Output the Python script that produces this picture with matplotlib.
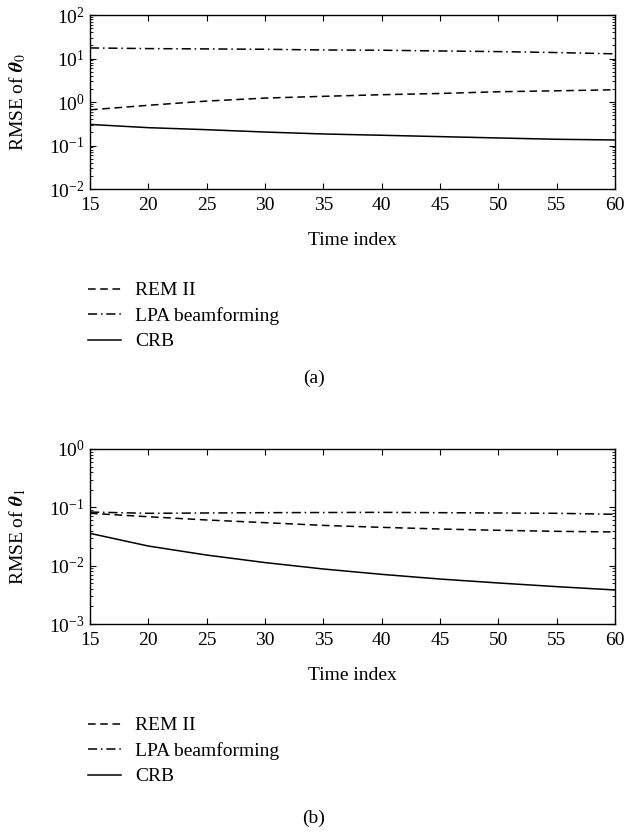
import numpy as np
import matplotlib.pyplot as plt
from matplotlib.ticker import LogLocator, NullLocator, NullFormatter

plt.rcParams['font.family'] = ['Liberation Serif', 'DejaVu Serif']
plt.rcParams['mathtext.fontset'] = 'stix'
FS = 14

# --- RMSE vs time index
time_idx = [15, 20, 25, 30, 35, 40, 45, 50, 55, 60]

# theta_0
rem_0 = [0.66, 0.84, 1.05, 1.23, 1.35, 1.47, 1.57, 1.72, 1.81, 1.91]
lpa_0 = [17.5, 16.9, 16.6, 16.3, 15.7, 15.5, 14.9, 14.4, 13.7, 12.8]
crb_0 = [0.305, 0.257, 0.231, 0.204, 0.184, 0.172, 0.160, 0.149, 0.139, 0.134]

# theta_1
rem_1 = [0.079, 0.069, 0.0607, 0.0546, 0.049, 0.0454, 0.0425, 0.0404, 0.0388, 0.0378]
lpa_1 = [0.083, 0.079, 0.080, 0.081, 0.0815, 0.082, 0.081, 0.080, 0.079, 0.076]
crb_1 = [0.0358, 0.0217, 0.0152, 0.0113, 0.00877, 0.0071, 0.0059, 0.00505, 0.00437, 0.00383]

labels = ["REM II", "LPA beamforming", "CRB"]


def draw_panel(fig, rect, rem, lpa, crb, ylim, ylabel, legend_y, tag, tag_y):
    ax = fig.add_axes(rect)
    ax.plot(time_idx, rem, color="black", lw=1.1, ls=(0, (5, 3)), label=labels[0])
    ax.plot(time_idx, lpa, color="black", lw=1.1, ls=(0, (6, 2.5, 1, 2.5)), label=labels[1])
    ax.plot(time_idx, crb, color="black", lw=1.1, ls="-", label=labels[2])

    ax.set_yscale("log")
    ax.set_xlim(15, 60)
    ax.set_ylim(*ylim)
    ax.set_xticks(np.arange(15, 61, 5))
    ax.yaxis.set_major_locator(LogLocator(base=10, numticks=10))
    ax.yaxis.set_minor_locator(LogLocator(base=10, subs=np.arange(2, 10), numticks=10))
    ax.yaxis.set_minor_formatter(NullFormatter())
    ax.xaxis.set_minor_locator(NullLocator())
    ax.tick_params(which="both", direction="in", top=True, right=True, labelsize=FS)
    ax.tick_params(which="major", length=4.5, width=0.8)
    ax.tick_params(axis="x", pad=6)
    ax.tick_params(axis="y", pad=4)
    ax.tick_params(which="minor", length=2.5, width=0.6)
    for s in ax.spines.values():
        s.set_linewidth(1.0)

    ax.set_xlabel("Time index", fontsize=FS)
    ax.xaxis.set_label_coords(0.5, -0.245)
    ax.set_ylabel(ylabel, fontsize=FS)
    ax.yaxis.set_label_coords(-0.118, 0.5)

    fig.legend(*ax.get_legend_handles_labels(), loc="upper left",
               bbox_to_anchor=(0.128, legend_y), frameon=False,
               handlelength=1.7, handletextpad=0.72, labelspacing=0.4,
               fontsize=FS, borderaxespad=0)
    fig.text(0.5, tag_y, tag, ha="center", va="center", fontsize=FS)
    return ax


fig = plt.figure(figsize=(6.27, 8.32), dpi=100)

H = 832.0
W = 627.0
left = 90 / W
width = (615 - 90) / W

draw_panel(fig, [left, 1 - 189 / H, width, (189 - 15) / H],
           rem_0, lpa_0, crb_0, (1e-2, 1e2), r"RMSE of $\mathbfit{\theta}_0$",
           1 - 274 / H, "(a)", 1 - 378 / H)
draw_panel(fig, [left, 1 - 624 / H, width, (624 - 449) / H],
           rem_1, lpa_1, crb_1, (1e-3, 1e0), r"RMSE of $\mathbfit{\theta}_1$",
           1 - 709 / H, "(b)", 1 - 818 / H)

fig.savefig("out.png", dpi=100)
